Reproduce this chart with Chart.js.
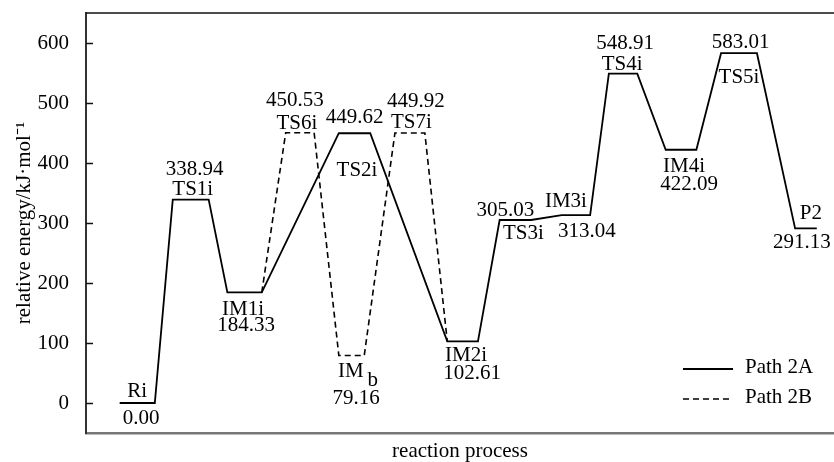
<!DOCTYPE html>
<html>
<head>
<meta charset="utf-8">
<script src="https://cdn.jsdelivr.net/npm/chart.js@4.4.1/dist/chart.umd.min.js"></script>
<style>
  html, body { margin: 0; padding: 0; background: #fff; }
  #wrap { width: 834px; height: 462px; }
</style>
</head>
<body>
<div id="wrap"><canvas id="energyChart"></canvas></div>
<script>
// Path 2A stationary points
var speciesA = ['Ri', 'TS1i', 'IM1i', 'TS2i', 'IM2i', 'TS3i', 'IM3i', 'TS4i', 'IM4i', 'TS5i', 'P2'];
var energyA = [0.00, 338.94, 184.33, 449.62, 102.61, 305.03, 313.04, 548.91, 422.09, 583.01, 291.13];
// reaction coordinate where each level begins / ends
var startA = [4.5, 11.6, 18.9, 33.8, 48.3, 55.3, 63.6, 69.9, 77.5, 84.9, 94.8];
var endA = [9.2, 16.4, 23.5, 38.0, 52.4, 59.5, 67.4, 73.7, 81.6, 89.7, 97.7];

// Path 2B branches off at IM1i and comes back at IM2i
var speciesB = ['TS6i', 'IM_b', 'TS7i'];
var energyB = [450.53, 79.16, 449.92];
var startB = [26.7, 33.8, 41.3];
var endB = [30.5, 37.2, 45.3];

var yTicks = [0, 100, 200, 300, 400, 500, 600];

// where the name / value text sits around its level: [dx px, baseline dy px]
var labelLayout = {
  'Ri':   { name: [0, -6],    value: [4, 21] },
  'TS1i': { name: [2, -5],    value: [4, -25] },
  'IM1i': { name: [-1.5, 23], value: [1.5, 39] },
  'TS2i': { name: [2.5, 43],  value: [0, -10] },
  'IM2i': { name: [3.5, 20],  value: [9.5, 38] },
  'TS3i': { name: [8, 19],    value: [-10, -4] },
  'IM3i': { name: [-10, -8],  value: [11, 22] },
  'TS4i': { name: [-1, -4],   value: [2, -25] },
  'IM4i': { name: [3, 22],    value: [8, 40] },
  'TS5i': { name: [0, 30],    value: [1.5, -5] },
  'P2':   { name: [5, -9],    value: [-4, 20] },
  'TS6i': { name: [-3, -4],   value: [-5, -27] },
  'IM_b': { name: [6.5, 21],  value: [4.5, 48] },
  'TS7i': { name: [1.5, -5],  value: [6, -26] }
};

var SERIF = "'Liberation Serif', 'Times New Roman', serif";
Chart.defaults.font.family = SERIF;
Chart.defaults.color = '#000';

function levelPoints(starts, ends, energies) {
  var pts = [];
  for (var i = 0; i < energies.length; i++) {
    pts.push({ x: starts[i], y: energies[i] });
    pts.push({ x: ends[i], y: energies[i] });
  }
  return pts;
}

var iIM1 = speciesA.indexOf('IM1i');
var iIM2 = speciesA.indexOf('IM2i');
var pathA = levelPoints(startA, endA, energyA);
var pathB = [{ x: endA[iIM1], y: energyA[iIM1] }]
  .concat(levelPoints(startB, endB, energyB))
  .concat([{ x: startA[iIM2], y: energyA[iIM2] }]);

// top border and inward tick marks on the energy axis
var framePlugin = {
  id: 'frame',
  afterDraw: function (chart) {
    var ctx = chart.ctx, area = chart.chartArea, ys = chart.scales.y;
    ctx.save();
    ctx.strokeStyle = '#111';
    ctx.lineWidth = 1.6;
    ctx.beginPath();
    ctx.moveTo(area.left, area.top);
    ctx.lineTo(area.right, area.top);
    ctx.stroke();
    ctx.lineWidth = 1.5;
    yTicks.forEach(function (v) {
      var py = Math.round(ys.getPixelForValue(v)) + 0.5;
      ctx.beginPath();
      ctx.moveTo(area.left, py);
      ctx.lineTo(area.left + 7, py);
      ctx.stroke();
    });
    ctx.restore();
  }
};

function drawName(ctx, text, x, y) {
  var parts = text.split('_');
  if (parts.length === 1) {
    ctx.textAlign = 'center';
    ctx.fillText(text, x, y);
    return;
  }
  var gap = 4;
  var w0 = ctx.measureText(parts[0]).width, w1 = ctx.measureText(parts[1]).width;
  var x0 = x - (w0 + gap + w1) / 2;
  ctx.textAlign = 'left';
  ctx.fillText(parts[0], x0, y);
  ctx.fillText(parts[1], x0 + w0 + gap, y + 9);
}

// species names and energies next to every level
var levelLabelPlugin = {
  id: 'levelLabels',
  afterDatasetsDraw: function (chart) {
    var ctx = chart.ctx, xs = chart.scales.x, ys = chart.scales.y;
    ctx.save();
    ctx.fillStyle = '#000';
    ctx.font = '21px ' + SERIF;
    ctx.textBaseline = 'alphabetic';
    function put(names, energies, starts, ends) {
      for (var i = 0; i < names.length; i++) {
        var cx = xs.getPixelForValue((starts[i] + ends[i]) / 2);
        var cy = ys.getPixelForValue(energies[i]);
        var lay = labelLayout[names[i]];
        drawName(ctx, names[i], cx + lay.name[0], cy + lay.name[1]);
        ctx.textAlign = 'center';
        ctx.fillText(energies[i].toFixed(2), cx + lay.value[0], cy + lay.value[1]);
      }
    }
    put(speciesA, energyA, startA, endA);
    put(speciesB, energyB, startB, endB);
    ctx.restore();
  }
};

// legend inside the lower right corner
var pathLegendPlugin = {
  id: 'pathLegend',
  afterDraw: function (chart) {
    var ctx = chart.ctx, area = chart.chartArea;
    ctx.save();
    ctx.font = '21px ' + SERIF;
    ctx.textBaseline = 'middle';
    ctx.textAlign = 'left';
    ctx.fillStyle = '#000';
    chart.data.datasets.forEach(function (ds, k) {
      var y = area.bottom - 66 + k * 30;
      var x = area.right - 151;
      ctx.strokeStyle = ds.borderColor;
      ctx.lineWidth = ds.borderWidth;
      ctx.setLineDash(ds.borderDash || []);
      ctx.beginPath();
      ctx.moveTo(x, y + 2);
      ctx.lineTo(x + 50, y + 2);
      ctx.stroke();
      ctx.setLineDash([]);
      ctx.fillText(ds.label, x + 62, y);
    });
    ctx.restore();
  }
};

var ctx = document.getElementById('energyChart').getContext('2d');
var energyChart = new Chart(ctx, {
  type: 'line',
  data: {
    datasets: [{
      label: 'Path 2A',
      data: pathA,
      borderColor: '#000',
      borderWidth: 1.8,
      pointRadius: 0,
      tension: 0,
      fill: false
    }, {
      label: 'Path 2B',
      data: pathB,
      borderColor: '#000',
      borderWidth: 1.6,
      borderDash: [6, 4],
      pointRadius: 0,
      tension: 0,
      fill: false
    }]
  },
  options: {
    responsive: true,
    maintainAspectRatio: false,
    animation: false,
    layout: { padding: { top: 13, right: 0, bottom: 0, left: 0 } },
    plugins: {
      legend: { display: false },
      tooltip: { enabled: false }
    },
    scales: {
      x: {
        type: 'linear',
        min: 0,
        max: 100,
        ticks: { display: false },
        grid: { display: false },
        border: { display: true, color: '#777', width: 2.5 },
        title: {
          display: true,
          text: 'reaction process',
          font: { size: 21, lineHeight: 1 },
          padding: { top: 0, bottom: 0 }
        },
        afterFit: function (scale) {
          scale.height = 29;
          scale.paddingLeft = 0;
          scale.paddingRight = 0;
        }
      },
      y: {
        type: 'linear',
        min: -50,
        max: 650,
        afterBuildTicks: function (scale) {
          scale.ticks = yTicks.map(function (v) { return { value: v }; });
        },
        ticks: { padding: 9, font: { size: 21 } },
        grid: { display: false },
        border: { display: true, color: '#333', width: 2 },
        title: {
          display: true,
          text: 'relative energy/kJ\u00b7mol\u207b\u00b9',
          font: { size: 21, lineHeight: 1 },
          padding: { top: 14, bottom: 0 }
        },
        afterFit: function (scale) {
          scale.width = 86;
          scale.paddingTop = 0;
          scale.paddingBottom = 0;
        }
      }
    }
  },
  plugins: [framePlugin, levelLabelPlugin, pathLegendPlugin]
});
</script>
</body>
</html>
